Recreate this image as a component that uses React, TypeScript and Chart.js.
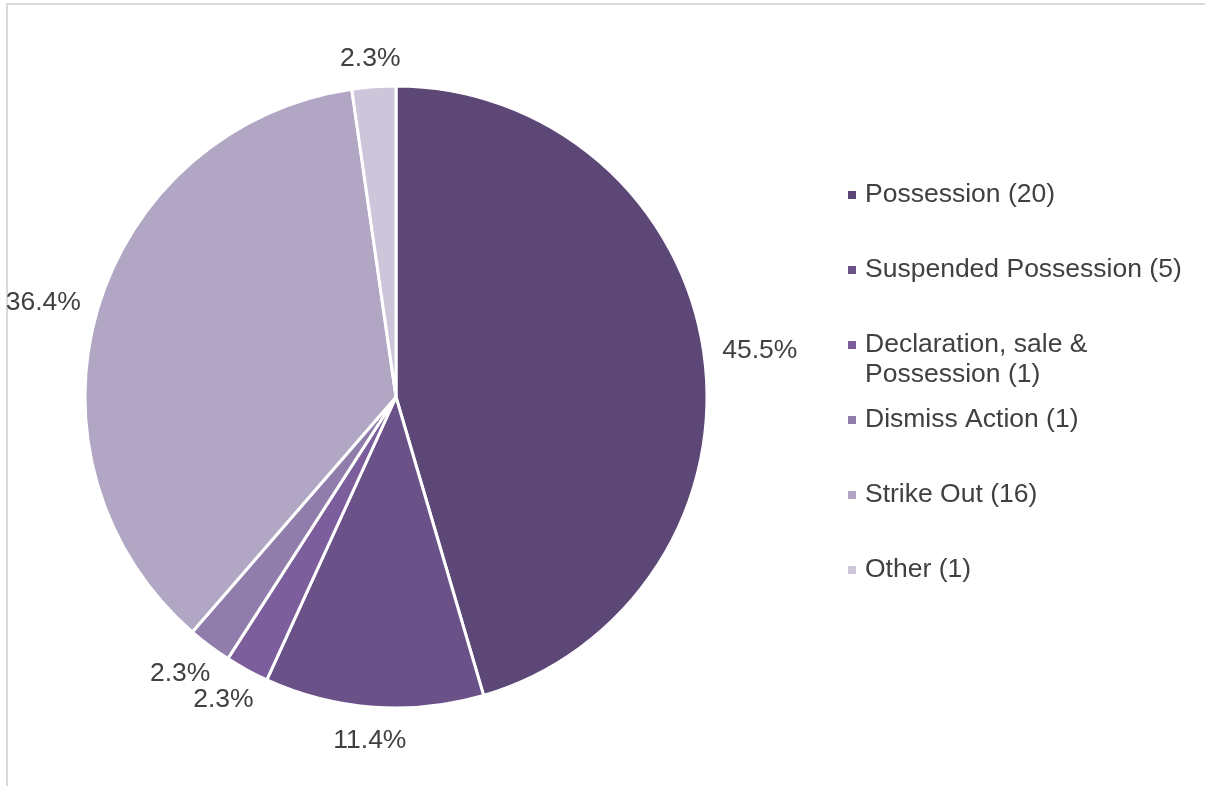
import React, { useEffect, useRef } from "react";
import { Chart, registerables } from "chart.js";

Chart.register(...registerables);

const categories = [
  "Possession (20)",
  "Suspended Possession (5)",
  "Declaration, sale & Possession (1)",
  "Dismiss Action (1)",
  "Strike Out (16)",
  "Other (1)",
];
const counts = [20, 5, 1, 1, 16, 1];
const percentLabels = ["45.5%", "11.4%", "2.3%", "2.3%", "36.4%", "2.3%"];
const sliceColors = ["#5d4777", "#6a5289", "#7b5e9b", "#917dab", "#b1a6c4", "#cdc6da"];

const FONT = '26.5px "Liberation Sans", Arial, sans-serif';
const TEXT_COLOR = "#404040";

const pctPlugin = {
  id: "pctLabels",
  afterDatasetsDraw(chart: any) {
    const ctx = chart.ctx;
    const meta = chart.getDatasetMeta(0);
    ctx.save();
    ctx.font = FONT;
    ctx.fillStyle = TEXT_COLOR;
    ctx.textAlign = "center";
    ctx.textBaseline = "middle";
    meta.data.forEach((arc: any, i: number) => {
      const { x, y, startAngle, endAngle, outerRadius } = arc.getProps(
        ["x", "y", "startAngle", "endAngle", "outerRadius"],
        true
      );
      const mid = (startAngle + endAngle) / 2;
      const c = Math.cos(mid);
      const s = Math.sin(mid);
      const text = percentLabels[i];
      const w = ctx.measureText(text).width;
      const h = 24;
      const r = outerRadius + 19;
      const tx = x + c * r + (c * w) / 2;
      const ty = y + s * r + (s * h) / 2 + 2.5;
      ctx.fillText(text, tx, ty);
    });
    ctx.restore();
  },
};

const legendPlugin = {
  id: "sideLegend",
  afterDraw(chart: any) {
    const ctx = chart.ctx;
    const area = chart.chartArea;
    const markerX = area.right + 142;
    const textX = markerX + 17;
    const firstY = 195;
    const rowGap = 75;
    const lineGap = 30;
    const maxWidth = 330;
    ctx.save();
    ctx.font = FONT;
    ctx.textBaseline = "middle";
    ctx.textAlign = "left";
    categories.forEach((label, i) => {
      const y = firstY + rowGap * i;
      ctx.fillStyle = sliceColors[i];
      ctx.fillRect(markerX, y - 4, 8, 8);
      ctx.fillStyle = TEXT_COLOR;
      const words = label.split(" ");
      const lines: string[] = [];
      let cur = "";
      words.forEach((wd) => {
        const test = cur ? cur + " " + wd : wd;
        if (ctx.measureText(test).width > maxWidth && cur) {
          lines.push(cur);
          cur = wd;
        } else {
          cur = test;
        }
      });
      if (cur) lines.push(cur);
      lines.forEach((ln, j) => ctx.fillText(ln, textX, y + j * lineGap));
    });
    ctx.restore();
  },
};

export default function App() {
  const canvasRef = useRef<HTMLCanvasElement | null>(null);

  useEffect(() => {
    const canvas = canvasRef.current;
    if (!canvas) return;
    const chart = new Chart(canvas, {
      type: "pie",
      data: {
        labels: categories,
        datasets: [
          {
            data: counts,
            backgroundColor: sliceColors,
            borderColor: "#ffffff",
            borderWidth: 3,
          },
        ],
      },
      options: {
        responsive: false,
        maintainAspectRatio: false,
        animation: false,
        devicePixelRatio: 1,
        radius: 311,
        layout: {
          padding: { left: 86, top: 87, right: 499, bottom: 79 },
        },
        plugins: {
          legend: { display: false },
          tooltip: { enabled: false },
        },
      } as any,
      plugins: [pctPlugin, legendPlugin],
    });
    return () => chart.destroy();
  }, []);

  return (
    <div
      style={{
        position: "fixed",
        left: 0,
        top: 0,
        width: 1205,
        height: 786,
        overflow: "hidden",
        background: "#ffffff",
      }}
    >
      <div
        style={{
          position: "absolute",
          left: 6,
          top: 3,
          width: 1300,
          height: 900,
          borderTop: "2px solid #d9d9d9",
          borderLeft: "2px solid #d9d9d9",
        }}
      />
      <canvas
        ref={canvasRef}
        width={1205}
        height={786}
        style={{ position: "absolute", left: 0, top: 0, width: 1205, height: 786 }}
      />
    </div>
  );
}
